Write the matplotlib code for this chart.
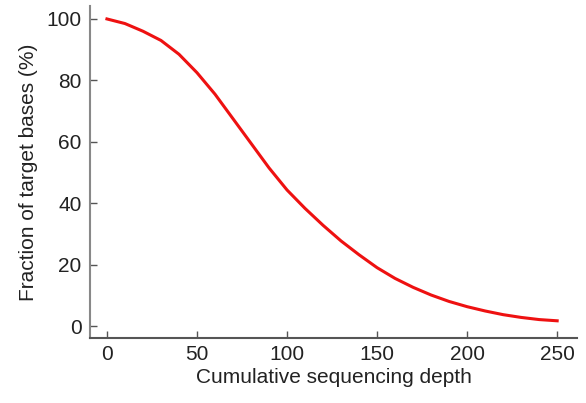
import numpy as np
import matplotlib.pyplot as plt

plt.rcParams['font.family'] = ['Liberation Sans', 'DejaVu Sans']

depth = np.arange(0, 260, 10)
fraction = np.array([100, 98.5, 96, 93, 88.5, 82.5, 75.5, 67.5, 59.5, 51.5,
                     44.3, 38.3, 32.8, 27.7, 23.2, 19, 15.5, 12.6, 10.1, 8.0,
                     6.3, 4.9, 3.7, 2.8, 2.1, 1.7])
xticks = [0, 50, 100, 150, 200, 250]
yticks = [0, 20, 40, 60, 80, 100]

fig = plt.figure(figsize=(5.86, 4.03), dpi=100)
ax = fig.add_axes([0.1536, 0.1613, 0.831, 0.8237])
ax.plot(depth, fraction, color='#ee1111', lw=2.2, solid_joinstyle='round')

ax.set_xlim(-9.4, 261)
ax.set_ylim(-3.9, 104.2)
ax.set_xticks(xticks)
ax.set_yticks(yticks)
for s in ['top', 'right']:
    ax.spines[s].set_visible(False)
ax.spines['left'].set_color('#888888')
ax.spines['bottom'].set_color('#555555')
ax.spines['left'].set_linewidth(1.5)
ax.spines['bottom'].set_linewidth(1.5)
ax.tick_params(direction='in', length=5, width=1, colors='#555555',
               labelcolor='#222222', labelsize=15)
ax.tick_params(axis='y', pad=6)
ax.tick_params(axis='x', pad=5)

ax.set_xlabel('Cumulative sequencing depth', fontsize=15, color='#222222', labelpad=3)
ax.set_ylabel('Fraction of target bases (%)', fontsize=15, color='#222222', labelpad=6)

fig.savefig('out.png', dpi=100)
